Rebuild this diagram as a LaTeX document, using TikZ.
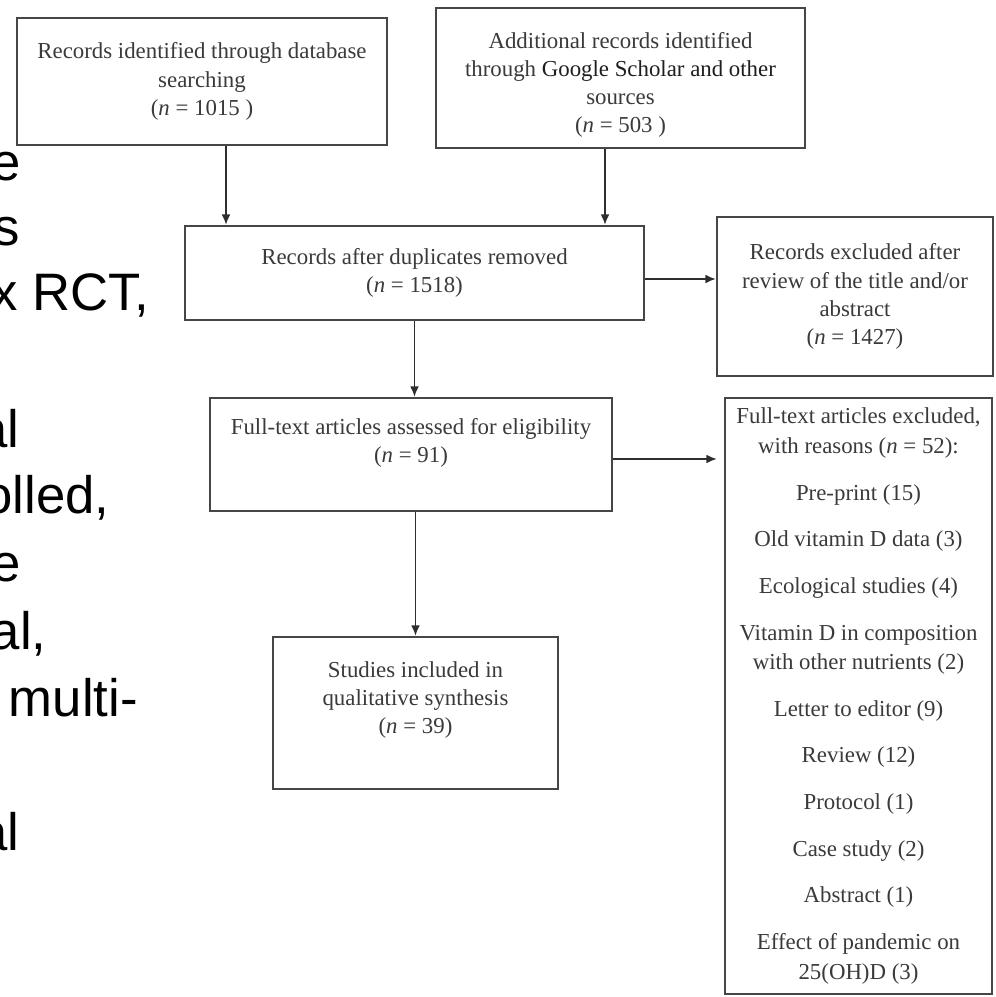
\documentclass[tikz,border=0pt]{standalone}
\usepackage{fontspec}
\setmainfont{Liberation Serif}
\newfontfamily\slidefont{Liberation Sans}
\usetikzlibrary{arrows.meta, positioning, calc}
\definecolor{boxgray}{HTML}{464646}
\definecolor{txtgray}{HTML}{3A3A3A}
\definecolor{darktxt}{HTML}{1E1E1E}
\definecolor{arrgray}{HTML}{2E2E2E}
\tikzset{
  >=Latex,
  box/.style={
    draw=boxgray, fill=white, line width=1.3pt, align=center, inner sep=3pt,
    text=txtgray, font=\fontsize{13pt}{16pt}\selectfont
  },
  listbox/.style={box, font=\fontsize{13pt}{17pt}\selectfont},
  arr/.style={-{Latex[length=6pt,width=5pt]}, line width=0.9pt, draw=arrgray},
  slide/.style={
    anchor=base east, inner sep=0pt, text=black,
    font=\slidefont\fontsize{30pt}{36pt}\selectfont
  }
}

\begin{document}
\begin{tikzpicture}[x=0.02cm, y=-0.02cm]
  \useasboundingbox (0,0) rectangle (996,997);
  \clip (0,0) rectangle (996,997);
  % slide text behind the chart
  \node[slide] (bgA) at (21,180) {e};
  \node[slide] (bgB) at (20,245) {s};
  \node[slide] (bgC) at (150,310) {x RCT,};
  \node[slide] (bgD) at (20,447) {al};
  \node[slide] (bgE) at (110,513) {olled,};
  \node[slide] (bgF) at (21,581) {e};
  \node[slide] (bgG) at (47,649) {al,};
  \node[slide] (bgH) at (138,716) {multi-};
  \node[slide] (bgI) at (20,850) {al};
  % flow boxes
  \node[box, minimum width=7.4cm, minimum height=2.54cm] (ident) at (202,81.5)
    {Records identified through database\\searching\\(\textit{n} = 1015 )};
  \node[box, minimum width=7.38cm, minimum height=2.8cm] (extra) at (620.5,78)
    {\rule{0pt}{17pt}Additional records identified\\through \textcolor{darktxt}{Google Scholar and other}\\sources\\(\textit{n} = 503 )};
  \node[box, minimum width=9.18cm, minimum height=1.88cm] (dedup) at (414.5,273)
    {Records after duplicates removed\\(\textit{n} = 1518)};
  \node[box, minimum width=5.52cm, minimum height=3.18cm] (screen) at (855,296.5)
    {Records excluded after\\review of the title and/or\\abstract\\(\textit{n} = 1427)};
  \node[box, minimum width=8.04cm, minimum height=2.26cm] (full) at (411,454.5)
    {Full-text articles assessed for eligibility\\(\textit{n} = 91)\\\mbox{}};
  \node[listbox, minimum width=5.34cm, minimum height=11.92cm] (why) at (858.5,696)
    {Full-text articles excluded,\\with reasons (\textit{n} = 52):\\[9.5pt]
     Pre-print (15)\\[9.5pt]Old vitamin D data (3)\\[9.5pt]Ecological studies (4)\\[9.5pt]
     Vitamin D in composition\\with other nutrients (2)\\[9.5pt]Letter to editor (9)\\[9.5pt]
     Review (12)\\[9.5pt]Protocol (1)\\[9.5pt]Case study (2)\\[9.5pt]Abstract (1)\\[9.5pt]
     Effect of pandemic on\\25(OH)D (3)};
  \node[box, minimum width=5.7cm, minimum height=3.04cm] (incl) at (415.5,713)
    {Studies included in\\qualitative synthesis\\(\textit{n} = 39)\\[2pt]\mbox{}};
  % connectors
  \draw[arr] ([xshift=0.48cm]ident.south) -- ([xshift=0.48cm]ident.south |- dedup.north);
  \draw[arr] ([xshift=-0.31cm]extra.south) -- ([xshift=-0.31cm]extra.south |- dedup.north);
  \draw[arr] ([yshift=-0.12cm]dedup.east) -- ([yshift=-0.12cm]dedup.east -| screen.west);
  \draw[arr] (dedup.south) -- (dedup.south |- full.north);
  \draw[arr, shorten >=4pt] ([yshift=-0.09cm]full.east) -- ([yshift=-0.09cm]full.east -| why.west);
  \draw[arr] (full.south -| incl.north) -- (incl.north);
\end{tikzpicture}
\end{document}
